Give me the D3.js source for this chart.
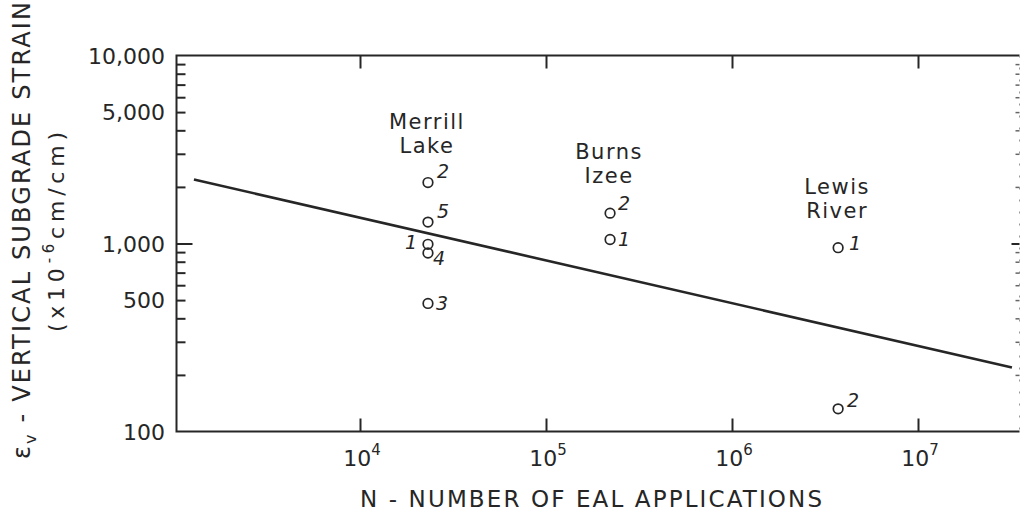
<!DOCTYPE html>
<html>
<head>
<meta charset="utf-8">
<script src="https://cdn.jsdelivr.net/npm/d3@7/dist/d3.min.js"></script>
<style>
  html, body { margin: 0; padding: 0; background: #fff; }
  svg { display: block; }
  text { font-family: "DejaVu Sans", sans-serif; fill: #262626; }
</style>
</head>
<body>
<svg id="chart" width="1021" height="516"></svg>
<script>
// ---- data ----
const xTickValues = [1e4, 1e5, 1e6, 1e7];
const xTickExponents = ["4", "5", "6", "7"];
const yTickValues = [100, 500, 1000, 5000, 10000];
const yTickLabels = ["100", "500", "1,000", "5,000", "10,000"];

const siteNames = ["Merrill Lake", "Burns Izee", "Lewis River"];

const pointSite   = ["Merrill Lake", "Merrill Lake", "Merrill Lake", "Merrill Lake", "Merrill Lake",
                     "Burns Izee", "Burns Izee", "Lewis River", "Lewis River"];
const pointN      = [23200, 23200, 23200, 23200, 23200, 221000, 221000, 3720000, 3720000];
const pointStrain = [2110, 1300, 990, 890, 480, 1450, 1050, 950, 132];
const pointLabel  = ["2", "5", "1", "4", "3", "2", "1", "1", "2"];

const lineN      = [1280, 32000000];
const lineStrain = [2190, 219];

const xTitle = "N - NUMBER OF EAL APPLICATIONS";
const yTitleMain = " - VERTICAL SUBGRADE STRAIN";

// ---- layout ----
const svg = d3.select("#chart");
const pLeft = 176.5, pRight = 1019.5, pTop = 55.5, pBottom = 431.5;
const ink = "#262626";

const x = d3.scaleLog().domain([1e4, 1e7]).range([360, 918]);
const y = d3.scaleLog().domain([100, 10000]).range([pBottom, pTop]);

// frame
svg.append("path")
  .attr("d", `M${pRight},${pTop}H${pLeft}V${pBottom}H${pRight}`)
  .attr("fill", "none").attr("stroke", ink).attr("stroke-width", 2);
svg.append("line")
  .attr("x1", pRight).attr("x2", pRight).attr("y1", pTop).attr("y2", pBottom)
  .attr("stroke", "#999").attr("stroke-width", 1).attr("stroke-dasharray", "2,10");

// y minor ticks (inside, left and right)
const yMinor = [];
[100, 1000].forEach(d => { for (let k = 2; k <= 9; k++) yMinor.push(d * k); });
const yAxisL = d3.axisRight(y).tickValues(yMinor).tickSize(9).tickFormat("");
const gL = svg.append("g").attr("transform", `translate(${pLeft},0)`).call(yAxisL);
gL.select(".domain").remove();
gL.selectAll("line").attr("stroke", ink).attr("stroke-width", 2);
const yMajorL = d3.axisRight(y).tickValues([1000]).tickSize(16).tickFormat("");
const gL2 = svg.append("g").attr("transform", `translate(${pLeft},0)`).call(yMajorL);
gL2.select(".domain").remove();
gL2.selectAll("line").attr("stroke", ink).attr("stroke-width", 2);

const yAxisR = d3.axisLeft(y).tickValues(yMinor).tickSize(4).tickFormat("");
const gR = svg.append("g").attr("transform", `translate(${pRight},0)`).call(yAxisR);
gR.select(".domain").remove();
gR.selectAll("line").attr("stroke", "#666").attr("stroke-width", 1.5);
const yMajorR = d3.axisLeft(y).tickValues([1000]).tickSize(8).tickFormat("");
const gR2 = svg.append("g").attr("transform", `translate(${pRight},0)`).call(yMajorR);
gR2.select(".domain").remove();
gR2.selectAll("line").attr("stroke", ink).attr("stroke-width", 2);

// y tick labels
svg.append("g").selectAll("text").data(yTickValues).join("text")
  .attr("x", 165).attr("y", d => y(d) + 8)
  .attr("text-anchor", "end").attr("font-size", 22)
  .text((d, i) => yTickLabels[i]);

// x ticks (bottom up, top down)
const xAxisB = d3.axisTop(x).tickValues(xTickValues).tickSize(13).tickFormat("");
const gB = svg.append("g").attr("transform", `translate(0,${pBottom})`).call(xAxisB);
gB.select(".domain").remove();
gB.selectAll("line").attr("stroke", ink).attr("stroke-width", 2);
const xAxisT = d3.axisBottom(x).tickValues(xTickValues).tickSize(13).tickFormat("");
const gT = svg.append("g").attr("transform", `translate(0,${pTop})`).call(xAxisT);
gT.select(".domain").remove();
gT.selectAll("line").attr("stroke", ink).attr("stroke-width", 2);

// x tick labels 10^n
const xl = svg.append("g").selectAll("text").data(xTickValues).join("text")
  .attr("x", d => x(d) + 2).attr("y", 466)
  .attr("text-anchor", "middle").attr("font-size", 22);
xl.append("tspan").text("10");
xl.append("tspan").attr("dy", -11).attr("font-size", 15).text((d, i) => xTickExponents[i]);

// regression line
svg.append("path")
  .datum(lineN.map((n, i) => [n, lineStrain[i]]))
  .attr("d", d3.line().x(d => x(d[0])).y(d => y(d[1])))
  .attr("fill", "none").attr("stroke", ink).attr("stroke-width", 2.6);

// points
const pts = pointN.map((n, i) => ({ n, s: pointStrain[i], lab: pointLabel[i], site: pointSite[i] }));
svg.append("g").selectAll("circle").data(pts).join("circle")
  .attr("cx", d => x(d.n)).attr("cy", d => y(d.s)).attr("r", 4.8)
  .attr("fill", "none").attr("stroke", ink).attr("stroke-width", 1.7);

// point label offsets (placement only)
const labelOffset = {
  "Merrill Lake|2": [9, -5, "start"],
  "Merrill Lake|5": [9, -4, "start"],
  "Merrill Lake|1": [-11, 5, "end"],
  "Merrill Lake|4": [5, 12, "start"],
  "Merrill Lake|3": [8, 7, "start"],
  "Burns Izee|2":   [8, -3, "start"],
  "Burns Izee|1":   [8, 6, "start"],
  "Lewis River|1":  [11, 2, "start"],
  "Lewis River|2":  [9, -2, "start"]
};
svg.append("g").selectAll("text").data(pts).join("text")
  .attr("x", d => x(d.n) + labelOffset[d.site + "|" + d.lab][0])
  .attr("y", d => y(d.s) + labelOffset[d.site + "|" + d.lab][1])
  .attr("text-anchor", d => labelOffset[d.site + "|" + d.lab][2])
  .attr("font-size", 19).attr("font-style", "italic")
  .text(d => d.lab);

// site labels above the top point of each site
siteNames.forEach(site => {
  const sp = pts.filter(p => p.site === site);
  const topS = d3.max(sp, p => p.s);
  const cx = x(sp[0].n) - 1;
  const cy = y(topS);
  const words = site.split(" ");
  svg.append("text").attr("x", cx).attr("y", cy - 54)
    .attr("text-anchor", "middle").attr("font-size", 21).attr("letter-spacing", 1.5)
    .text(words[0]);
  svg.append("text").attr("x", cx).attr("y", cy - 30)
    .attr("text-anchor", "middle").attr("font-size", 21).attr("letter-spacing", 1.5)
    .text(words[1]);
});

// x title
svg.append("text").attr("x", 360).attr("y", 507)
  .attr("font-size", 23)
  .attr("textLength", 462).attr("lengthAdjust", "spacing")
  .text(xTitle);

// y title (rotated)
const yt = svg.append("text")
  .attr("transform", "translate(30,459) rotate(-90)")
  .attr("x", 0).attr("y", 0)
  .attr("font-size", 24)
  .attr("textLength", 457).attr("lengthAdjust", "spacing");
yt.append("tspan").text("\u03B5");
yt.append("tspan").attr("dy", 6).attr("font-size", 16).text("v");
yt.append("tspan").attr("dy", -6).text(yTitleMain);

const yt2 = svg.append("text")
  .attr("transform", "translate(64,332) rotate(-90)")
  .attr("font-size", 22)
  .attr("textLength", 200).attr("lengthAdjust", "spacing");
yt2.append("tspan").text("(x10");
yt2.append("tspan").attr("dy", -10).attr("font-size", 15).text("-6");
yt2.append("tspan").attr("dy", 10).text("cm/cm)");
</script>
</body>
</html>
